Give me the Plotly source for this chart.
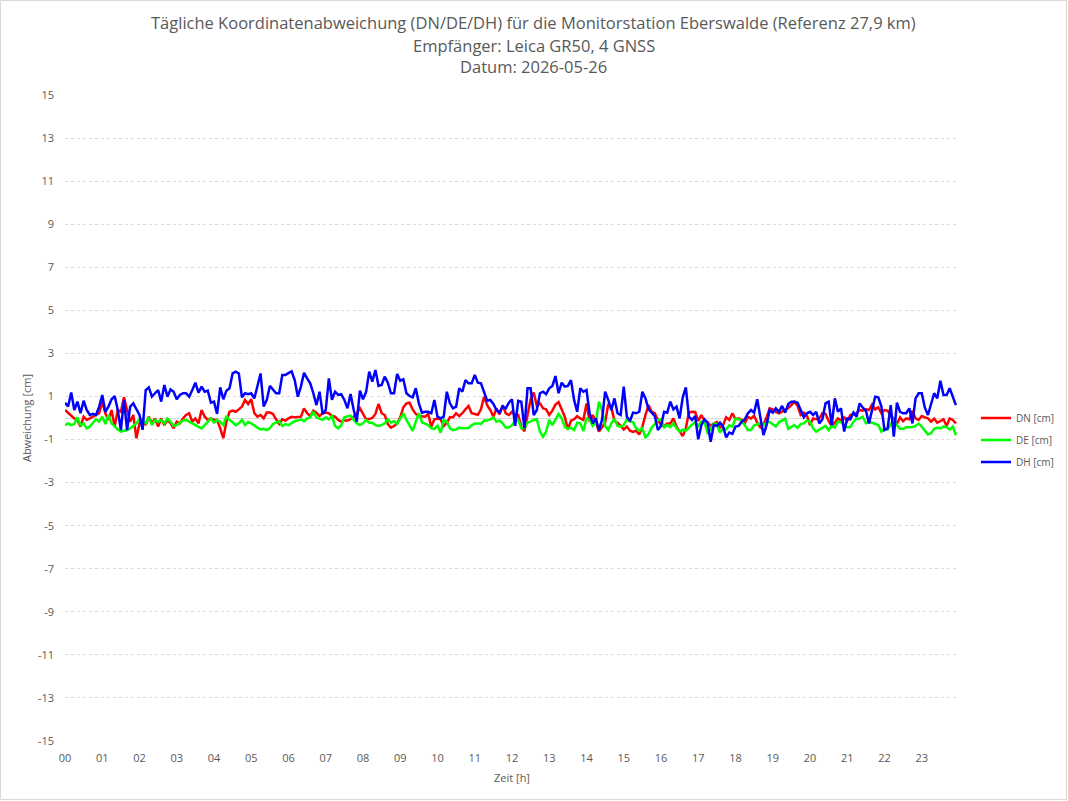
import plotly.graph_objects as go

# 5-minute samples over the day (hours)
step_minutes = 5
n_points = 288
hours = [i * step_minutes / 60 for i in range(n_points)]

dn = [
    0.37,0.25,0.14,-0.02,-0.09,-0.4,0.06,-0.09,-0.02,0.06,0.14,0.22, 0.76,0.22,-0.09,0.37,-0.4,0.37,0.29,0.96,0.37,-0.17,0.14,-0.94,
    -0.25,-0.09,-0.33,0.06,-0.25,-0.02,-0.4,-0.02,-0.33,-0.09,-0.25,-0.48, -0.17,-0.25,-0.02,0.14,0.22,-0.17,-0.02,-0.25,0.37,0.06,-0.09,-0.02,
    -0.09,-0.09,-0.48,-0.94,-0.17,0.29,0.34,0.29,0.4,0.53,0.84,0.65, 0.87,0.22,0.06,0.14,-0.02,0.25,0.25,0.19,-0.06,-0.28,-0.06,-0.12,
    -0.02,0.06,0.03,0.03,0.06,0.45,0.22,0.09,0.34,0.25,0.09,0.22, 0.25,0.22,0.09,0.06,-0.09,-0.17,-0.12,-0.12,-0.06,0.06,0.22,0.45,
    0.22,-0.06,-0.05,0.0,0.19,0.65,0.22,0.14,-0.28,-0.45,-0.37,-0.25, 0.03,0.5,0.68,0.71,0.4,0.19,0.09,0.06,0.06,0.19,-0.4,-0.06,
    -0.02,-0.06,-0.37,-0.22,0.03,0.03,0.22,0.09,0.22,0.4,0.56,0.22, 0.19,0.15,0.4,0.99,0.6,0.37,0.06,0.45,0.17,0.6,0.22,0.14,
    0.29,0.14,0.14,-0.4,-0.62,0.22,0.87,1.18,0.56,0.68,0.45,0.4, 0.14,0.34,0.62,0.74,0.37,0.06,-0.53,-0.12,-0.06,0.09,-0.02,-0.09,
    0.68,-0.17,0.14,-0.17,-0.63,-0.4,-0.22,0.65,0.5,-0.14,-0.22,-0.37, -0.53,-0.4,-0.59,-0.65,-0.59,-0.77,-0.4,0.14,0.6,0.29,0.22,-0.09,
    -0.33,-0.37,-0.25,-0.25,-0.02,-0.4,-0.63,-0.84,-0.48,0.25,0.29,0.28, -0.14,0.14,-0.12,-0.19,-0.37,-0.25,-0.19,-0.45,-0.33,0.03,-0.09,0.22,
    -0.06,-0.02,-0.09,-0.25,0.06,-0.03,0.11,-0.22,-0.43,-0.29,0.02,0.45, 0.4,0.28,0.22,0.29,0.37,0.46,0.6,0.76,0.57,0.14,0.25,0.12,
    -0.33,-0.02,-0.06,-0.02,0.22,0.19,-0.14,-0.37,-0.22,-0.02,-0.12,0.03, -0.14,0.14,0.17,0.22,0.37,0.34,0.4,0.37,0.63,0.4,0.5,0.22,
    0.37,0.34,0.14,-0.06,-0.28,0.03,-0.15,-0.02,-0.06,0.34,-0.02,-0.09, 0.09,0.03,-0.02,-0.17,-0.03,-0.22,-0.14,-0.06,-0.37,-0.02,-0.09,-0.25,
]

de = [
    -0.33,-0.25,-0.33,-0.28,0.03,-0.33,-0.25,-0.48,-0.4,-0.25,-0.06,-0.17, 0.06,-0.28,0.14,-0.25,-0.4,-0.53,-0.63,-0.59,-0.56,-0.48,-0.37,-0.25,
    -0.06,-0.12,-0.25,0.03,-0.33,-0.09,-0.19,-0.09,-0.25,-0.02,-0.17,-0.37, -0.33,-0.22,-0.12,-0.09,-0.19,-0.25,-0.33,-0.4,-0.48,-0.33,-0.17,-0.02,
    -0.22,-0.09,-0.17,-0.33,0.09,-0.09,-0.2,-0.33,-0.25,-0.09,-0.33,-0.19, -0.25,-0.37,-0.45,-0.53,-0.5,-0.56,-0.48,-0.28,-0.22,-0.14,-0.37,-0.28,
    -0.33,-0.25,-0.15,-0.12,-0.06,-0.15,-0.03,0.03,0.29,0.02,-0.02,-0.09, 0.03,-0.06,0.09,-0.37,-0.48,-0.33,0.03,0.06,0.11,-0.09,-0.25,-0.33,
    -0.25,-0.09,-0.22,-0.22,-0.33,-0.37,-0.33,-0.25,-0.06,-0.22,-0.14,-0.28, -0.02,0.22,-0.09,-0.37,-0.6,-0.17,0.22,-0.2,-0.28,-0.33,-0.48,-0.51,
    -0.36,-0.68,-0.09,-0.17,-0.48,-0.56,-0.53,-0.45,-0.48,-0.46,-0.46,-0.34, -0.25,-0.25,-0.28,-0.12,-0.12,-0.06,0.03,-0.17,-0.12,-0.25,-0.45,-0.43,
    -0.34,-0.12,-0.09,-0.48,-0.48,-0.2,-0.17,-0.09,-0.06,-0.63,-0.87,-0.63, -0.09,-0.33,-0.09,0.19,-0.02,-0.4,-0.51,-0.45,-0.56,-0.22,-0.25,-0.6,
    -0.02,-0.09,-0.37,-0.22,0.76,0.37,-0.37,-0.56,-0.25,-0.03,-0.37,-0.4, -0.33,-0.06,-0.17,-0.19,-0.48,-0.59,-0.48,-0.9,-0.74,-0.45,-0.28,-0.09,
    -0.06,-0.43,-0.33,-0.42,-0.25,-0.48,-0.63,-0.54,-0.59,-0.43,-0.31,-0.2, -0.37,-0.17,-0.19,-0.68,-0.53,-0.25,-0.28,-0.68,-0.48,-0.53,-0.34,-0.4,
    -0.03,-0.06,-0.15,-0.33,-0.56,-0.56,-0.34,-0.29,-0.25,-0.33,-0.19,-0.19, -0.28,-0.4,-0.2,-0.12,-0.03,-0.5,-0.4,-0.33,-0.46,-0.28,-0.25,-0.12,
    -0.17,-0.48,-0.63,-0.53,-0.45,-0.37,-0.56,-0.37,-0.45,-0.17,-0.19,-0.37, -0.43,-0.42,-0.17,-0.03,-0.02,0.06,-0.25,-0.17,-0.22,-0.28,-0.33,-0.63,
    -0.48,-0.53,-0.31,-0.06,-0.33,-0.5,-0.5,-0.43,-0.43,-0.42,-0.37,-0.26, -0.4,-0.6,-0.77,-0.71,-0.5,-0.45,-0.48,-0.4,-0.42,-0.54,-0.4,-0.8,
]

dh = [
    0.71,0.53,1.18,0.37,0.76,0.22,0.8,0.37,0.14,0.19,0.14,0.53, 1.07,0.29,0.53,0.87,1.02,0.37,-0.56,0.84,-0.56,0.53,0.68,0.37,
    0.14,-0.55,1.3,1.42,0.99,1.15,1.3,0.76,1.53,0.99,1.33,1.22, 0.87,1.07,1.15,1.15,0.99,1.3,1.64,1.18,1.46,1.22,1.27,0.71,
    0.76,0.19,1.42,0.87,1.27,1.38,2.07,2.15,2.07,0.96,1.15,1.11, 1.15,0.91,1.53,2.07,0.53,0.84,1.49,1.33,1.15,1.15,2.0,2.0,
    2.1,2.17,1.76,0.99,1.46,2.1,1.84,1.61,1.15,0.6,1.22,0.19, 0.37,1.84,0.84,1.22,1.07,1.11,0.84,0.45,1.11,0.37,-0.17,1.27,
    0.87,1.21,2.15,1.69,2.23,1.49,1.53,1.92,1.64,1.15,1.15,2.04, 1.73,1.8,1.15,1.02,0.96,1.38,0.68,0.25,0.29,0.29,0.22,0.84,
    0.06,-0.02,0.06,1.22,0.68,0.45,0.53,1.38,1.22,1.76,1.61,1.61, 2.0,1.64,1.61,1.22,0.8,0.84,0.65,0.37,0.25,0.53,0.45,0.71,
    0.87,-0.37,0.8,0.76,-0.48,1.38,1.38,0.14,0.37,1.15,1.22,1.11, 1.38,1.49,1.95,1.15,1.64,1.46,1.49,1.76,0.84,0.29,1.38,1.22,
    1.3,0.22,-0.25,-0.02,-0.56,-0.09,1.22,0.84,0.37,0.91,0.22,0.14, 1.46,0.06,-0.14,0.25,0.22,0.29,1.22,0.91,0.4,0.25,0.09,-0.56,
    -0.37,0.29,0.25,0.76,0.4,0.53,-0.02,0.96,1.42,0.06,-0.09,0.09, -0.99,-0.33,-0.06,-0.22,-1.1,-0.33,-0.37,-0.22,-0.4,-0.9,-0.68,-0.74,
    -0.4,-0.37,-0.17,-0.06,0.22,0.37,0.25,0.87,0.06,-0.79,-0.33,0.37, 0.25,0.45,0.29,0.56,0.25,0.65,0.76,0.76,0.71,0.37,0.03,0.22,
    0.29,0.14,0.29,-0.25,-0.06,0.68,0.76,-0.33,0.91,0.29,0.45,-0.63, -0.02,-0.06,0.26,0.06,0.68,0.48,0.34,-0.25,0.37,0.99,0.96,0.53,
    -0.56,-0.48,0.6,-0.87,0.71,0.29,0.22,0.22,0.45,-0.25,0.91,1.15, 1.15,0.48,0.14,0.68,1.15,0.91,1.73,1.07,1.07,1.38,0.99,0.6,
]

series_names = ["DN [cm]", "DE [cm]", "DH [cm]"]
series_colors = ["#ff0000", "#00ff00", "#0000ff"]
x_tick_vals = list(range(24))
x_tick_text = [f"{h:02d}" for h in x_tick_vals]
y_tick_vals = list(range(-15, 16, 2))
y_tick_text = [str(v) for v in y_tick_vals]

title_lines = [
    "Tägliche Koordinatenabweichung (DN/DE/DH) für die Monitorstation Eberswalde (Referenz 27,9 km)",
    "Empfänger: Leica GR50, 4 GNSS",
    "Datum: 2026-05-26",
]
title_y_px = [22, 45, 67]

W, H = 1068, 801
ML, MR, MT, MB = 65, 109, 95, 60
FONT = "Open Sans"
GRAY = "#595959"

fig = go.Figure()
for i, (name, vals, col) in enumerate(zip(series_names, [dn, de, dh], series_colors)):
    fig.add_trace(go.Scatter(x=hours, y=vals, mode="lines", name=name, legendgroup=f"g{i}",
                             line=dict(color=col, width=2.5)))

pw = W - ML - MR
ph = H - MT - MB

def px_x(x):
    return (x - ML) / pw

def px_y(y):
    return (H - MB - y) / ph

fig.add_shape(type="rect", xref="paper", yref="paper",
              x0=px_x(0.5), x1=px_x(1066.5), y0=px_y(799.5), y1=px_y(0.5),
              line=dict(color="#d9d9d9", width=1), layer="below")

for text, ypx in zip(title_lines, title_y_px):
    fig.add_annotation(text=text, xref="paper", yref="paper", x=px_x(533.5), y=px_y(ypx),
                       xanchor="center", yanchor="middle", showarrow=False,
                       font=dict(family=FONT, size=16.5, color=GRAY))

fig.update_layout(
    width=W, height=H,
    margin=dict(l=ML, r=MR, t=MT, b=MB, autoexpand=False),
    paper_bgcolor="white", plot_bgcolor="white",
    font=dict(family=FONT, color=GRAY, size=11),
    showlegend=True,
    legend=dict(x=px_x(976), xanchor="left", y=px_y(440), yanchor="middle",
                font=dict(size=10, color=GRAY), bgcolor="rgba(0,0,0,0)",
                tracegroupgap=3, itemwidth=30),
    xaxis=dict(range=[0, 24], tickmode="array", tickvals=x_tick_vals, ticktext=x_tick_text,
               showgrid=False, zeroline=False, showline=False, ticks="",
               ticklabelstandoff=9,
               tickfont=dict(size=11, color=GRAY),
               title=dict(text="Zeit [h]", font=dict(size=11, color=GRAY), standoff=10)),
    yaxis=dict(range=[-15, 15], tickmode="array", tickvals=y_tick_vals, ticktext=y_tick_text,
               showgrid=True, gridcolor="#d9d9d9", griddash="dot", gridwidth=1,
               zeroline=True, zerolinecolor="#d9d9d9", zerolinewidth=1,
               showline=False, ticks="", ticklabelstandoff=10,
               tickfont=dict(size=11, color=GRAY),
               title=dict(text="Abweichung [cm]", font=dict(size=11, color=GRAY), standoff=4)),
)

fig.write_html("out.html")
